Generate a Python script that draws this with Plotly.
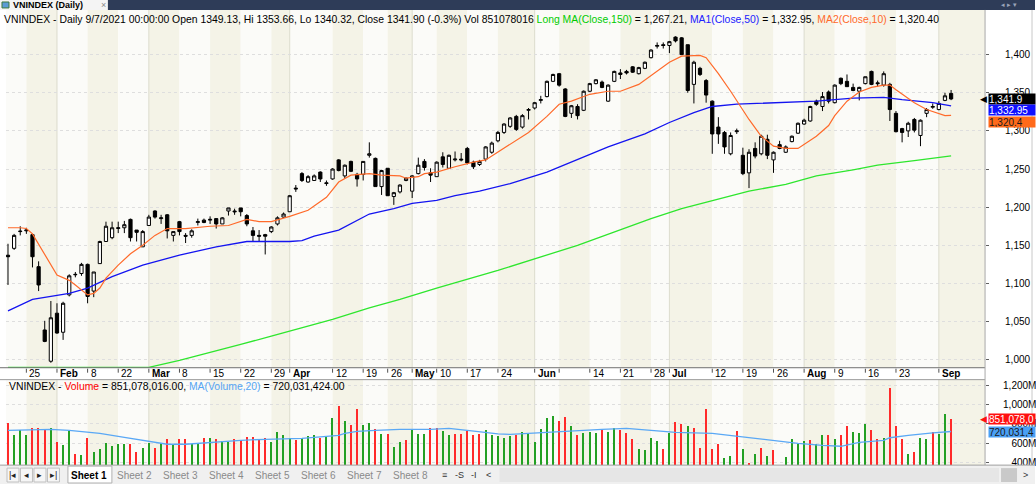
import plotly.graph_objects as go

# ---------------- DATA ----------------
trading_days = {
    1: [20, 21, 22, 25, 26, 27, 28, 29],
    2: [1, 2, 3, 4, 5, 8, 9, 17, 18, 19, 22, 23, 24, 25, 26],
    3: [1, 2, 3, 4, 5, 8, 9, 10, 11, 12, 15, 16, 17, 18, 19, 22, 23, 24, 25, 26, 29, 30, 31],
    4: [1, 2, 5, 6, 7, 8, 9, 12, 13, 14, 15, 16, 19, 20, 22, 23, 26, 27, 28, 29],
    5: [4, 5, 6, 7, 10, 11, 12, 13, 14, 17, 18, 19, 20, 21, 24, 25, 26, 27, 28, 31],
    6: [1, 2, 3, 4, 7, 8, 9, 10, 11, 14, 15, 16, 17, 18, 21, 22, 23, 24, 25, 28, 29, 30],
    7: [1, 2, 5, 6, 7, 8, 9, 12, 13, 14, 15, 16, 19, 20, 21, 22, 23, 26, 27, 28, 29, 30],
    8: [2, 3, 4, 5, 6, 9, 10, 11, 12, 13, 16, 17, 18, 19, 20, 23, 24, 25, 26, 27, 30, 31],
    9: [1, 6, 7],
}
dates = [f"2021-{m:02d}-{d:02d}" for m, ds in trading_days.items() for d in ds]

opens = [1137, 1146, 1168, 1169, 1164, 1122, 1039, 998,
         1061, 1036, 1085, 1112, 1113, 1125, 1090, 1126, 1155, 1160, 1172, 1173, 1184, 1170, 1148,
         1176, 1195, 1185, 1190, 1163, 1181, 1163, 1163, 1180, 1183, 1183, 1185, 1178, 1195, 1195, 1199, 1189, 1169, 1163, 1164, 1168, 1178, 1187,
         1194, 1225, 1244, 1233, 1235, 1246, 1232, 1237, 1262, 1241, 1260, 1243, 1243, 1268, 1264, 1227, 1251, 1214, 1220, 1235,
         1221, 1244, 1260, 1245, 1240, 1266, 1251, 1262, 1263, 1277, 1259, 1256, 1263, 1272, 1287, 1298, 1306, 1319, 1305, 1327,
         1330, 1340, 1345, 1365, 1375, 1355, 1323, 1332, 1327, 1352, 1362, 1364, 1339, 1365, 1376, 1378, 1384, 1375, 1382, 1396, 1411, 1413,
         1412, 1423, 1422, 1413, 1361, 1382, 1366, 1339, 1305, 1298, 1270, 1299, 1268, 1245, 1277, 1270, 1289, 1262, 1282, 1272, 1286, 1297,
         1309, 1313, 1339, 1332, 1351, 1337, 1369, 1365, 1357, 1352, 1362, 1378, 1363, 1360, 1361, 1323, 1303, 1300, 1315, 1294, 1323, 1331,
         1328, 1340, 1349.13]
highs = [1152, 1165, 1175, 1173, 1165, 1129, 1051, 1077,
         1074, 1076, 1112, 1115, 1127, 1126, 1115, 1156, 1181, 1181, 1181, 1182, 1185, 1170, 1170,
         1190, 1196, 1190, 1191, 1168, 1182, 1166, 1171, 1185, 1185, 1188, 1185, 1187, 1199, 1198, 1199, 1191, 1174, 1170, 1165, 1175, 1188, 1193,
         1216, 1229, 1246, 1242, 1243, 1247, 1235, 1251, 1263, 1256, 1261, 1245, 1260, 1285, 1265, 1249, 1251, 1220, 1230, 1239,
         1242, 1265, 1263, 1251, 1260, 1272, 1269, 1273, 1271, 1279, 1261, 1262, 1280, 1286, 1300, 1310, 1318, 1321, 1322, 1330,
         1338, 1346, 1366, 1375, 1376, 1356, 1334, 1335, 1353, 1363, 1368, 1366, 1361, 1379, 1381, 1380, 1385, 1384, 1391, 1407, 1416, 1416,
         1418, 1424, 1423, 1413, 1392, 1384, 1368, 1340, 1318, 1300, 1298, 1303, 1278, 1276, 1285, 1295, 1295, 1273, 1287, 1281, 1294, 1311,
         1316, 1333, 1341, 1351, 1353, 1361, 1370, 1374, 1362, 1358, 1371, 1379, 1366, 1378, 1363, 1326, 1304, 1312, 1317, 1315, 1330, 1336,
         1339, 1350, 1353.66]
lows = [1098, 1144, 1163, 1165, 1121, 1090, 1023, 996,
        1034, 1026, 1083, 1108, 1110, 1074, 1082, 1126, 1155, 1158, 1166, 1166, 1155, 1155, 1148,
        1176, 1185, 1178, 1159, 1155, 1163, 1153, 1160, 1176, 1179, 1178, 1172, 1178, 1189, 1190, 1188, 1175, 1155, 1155, 1138, 1166, 1176, 1186,
        1194, 1220, 1233, 1232, 1235, 1233, 1228, 1236, 1247, 1238, 1246, 1227, 1235, 1265, 1227, 1216, 1215, 1203, 1218, 1234,
        1212, 1243, 1248, 1233, 1240, 1252, 1250, 1260, 1260, 1256, 1250, 1254, 1260, 1270, 1285, 1296, 1304, 1300, 1303, 1315,
        1328, 1336, 1344, 1364, 1358, 1318, 1317, 1315, 1326, 1351, 1361, 1356, 1338, 1364, 1368, 1374, 1376, 1374, 1381, 1395, 1408, 1408,
        1402, 1416, 1400, 1350, 1336, 1372, 1337, 1270, 1283, 1270, 1268, 1296, 1242, 1225, 1264, 1268, 1263, 1245, 1276, 1271, 1285, 1296,
        1308, 1312, 1333, 1326, 1336, 1336, 1360, 1358, 1352, 1340, 1361, 1360, 1358, 1358, 1313, 1298, 1285, 1292, 1298, 1280, 1318, 1329,
        1327, 1339, 1340.32]
closes = [1135, 1163, 1168.5, 1170, 1135, 1098, 1024, 1055,
          1035, 1074, 1110, 1111.5, 1125, 1083, 1115, 1155, 1175, 1173, 1173, 1177, 1160, 1167, 1168,
          1187, 1187, 1186, 1169, 1168, 1168, 1162, 1169, 1181, 1180, 1184, 1178, 1186, 1199, 1194, 1194, 1178, 1163, 1162, 1162, 1174, 1186, 1191,
          1215, 1224, 1235, 1240, 1241, 1237, 1231, 1250, 1248, 1255, 1247, 1237, 1260, 1270, 1227, 1248, 1215, 1219, 1229, 1238,
          1241, 1255, 1252, 1242, 1259, 1256, 1268, 1263, 1262, 1258, 1253, 1260, 1279, 1284, 1298, 1309, 1317, 1302, 1320, 1328,
          1337, 1341, 1365, 1374, 1360, 1319, 1333, 1320, 1352, 1362, 1367, 1357, 1360, 1378, 1374, 1376, 1377, 1383, 1390, 1406, 1412, 1412,
          1417, 1418, 1400, 1353, 1390, 1374, 1347, 1296, 1296, 1279, 1294, 1300, 1244, 1272, 1267, 1293, 1268, 1272, 1277, 1279, 1293, 1310,
          1314, 1332, 1335, 1345, 1339, 1360, 1362, 1358, 1353, 1357, 1371, 1361, 1362, 1375, 1328, 1299, 1298, 1310, 1301, 1314, 1328, 1332,
          1336, 1346, 1341.90]

# volume, millions of shares; 1 = green bar, 0 = red bar
volume_m = [815, 684, 735, 688, 763, 763, 735, 763,
            618, 580, 732, 493, 480, 660, 514, 538, 608, 573, 597, 597, 597, 514, 548,
            608, 548, 608, 649, 590, 649, 642, 590, 608, 660, 660, 649, 625, 618, 642, 632, 667, 667, 632, 653, 618, 722, 688,
            660, 632, 653, 677, 688, 653, 677, 867, 989, 833, 791, 964, 791, 815, 746, 701, 701, 566, 618, 632,
            735, 701, 701, 763, 763, 729, 688, 701, 694, 729, 688, 694, 735, 688, 680, 655, 680, 685, 721, 706,
            614, 752, 862, 890, 838, 873, 784, 685, 706, 721, 713, 749, 721, 756, 742, 706, 650, 544, 529, 660, 624, 546,
            706, 820, 802, 784, 756, 553, 963, 544, 596, 446, 471, 731, 536, 394, 493, 553, 464, 529, 365, 457, 643, 596,
            624, 631, 596, 685, 685, 650, 685, 777, 721, 713, 802, 742, 650, 660, 1175, 784, 650, 493, 507, 660, 650, 721,
            695, 909, 851.078016]
volume_up = [0, 1, 1, 1, 0, 0, 0, 1,
             0, 1, 1, 0, 1, 0, 1, 1, 1, 1, 1, 1, 0, 0, 1,
             1, 0, 1, 0, 1, 0, 0, 1, 1, 0, 1, 0, 1, 1, 0, 0, 0, 0, 0, 0, 1, 1, 1,
             1, 0, 1, 1, 1, 0, 1, 1, 0, 1, 0, 0, 1, 1, 0, 1, 0, 1, 1, 0,
             1, 1, 1, 0, 0, 1, 1, 0, 0, 0, 0, 0, 1, 1, 1, 1, 1, 0, 1, 1,
             1, 1, 1, 1, 0, 0, 1, 0, 1, 1, 1, 0, 1, 1, 0, 0, 0, 1, 1, 1, 1, 0,
             1, 0, 0, 1, 0, 0, 0, 0, 0, 1, 1, 0, 1, 0, 1, 0, 1, 0, 1, 1, 1, 1,
             1, 0, 1, 1, 0, 1, 0, 0, 1, 1, 1, 0, 0, 1, 0, 0, 0, 1, 0, 1, 1, 0,
             1, 1, 0]

ma10_dates = ["2021-01-20", "2021-01-22", "2021-01-25", "2021-01-26", "2021-02-01", "2021-02-03", "2021-02-04",
              "2021-02-08", "2021-02-09", "2021-02-17", "2021-02-18", "2021-02-22", "2021-02-24", "2021-02-26",
              "2021-03-02", "2021-03-04", "2021-03-09", "2021-03-15", "2021-03-18", "2021-03-22", "2021-03-23",
              "2021-03-25", "2021-03-29", "2021-04-01", "2021-04-06", "2021-04-09", "2021-04-13", "2021-04-15",
              "2021-04-20", "2021-04-23", "2021-04-28", "2021-04-29", "2021-05-05", "2021-05-06", "2021-05-10",
              "2021-05-13", "2021-05-18", "2021-05-20", "2021-05-24", "2021-05-31", "2021-06-03", "2021-06-07",
              "2021-06-09", "2021-06-14", "2021-06-17", "2021-06-21", "2021-06-24", "2021-06-29", "2021-07-01",
              "2021-07-05", "2021-07-08", "2021-07-09", "2021-07-13", "2021-07-15", "2021-07-16", "2021-07-20",
              "2021-07-22", "2021-07-26", "2021-07-28", "2021-07-30", "2021-08-04", "2021-08-06", "2021-08-09",
              "2021-08-11", "2021-08-13", "2021-08-17", "2021-08-19", "2021-08-20", "2021-08-23", "2021-08-26",
              "2021-08-30", "2021-09-01", "2021-09-06", "2021-09-07"]
ma10_vals = [1173, 1173, 1172, 1165, 1111, 1104, 1098, 1085, 1087, 1094, 1107, 1124, 1139, 1150,
             1163, 1172, 1172, 1175, 1176, 1182, 1184, 1181, 1181, 1188, 1196, 1213, 1233, 1242,
             1244, 1242, 1241, 1238, 1240, 1244, 1246, 1253, 1259, 1262, 1272, 1298, 1319, 1335,
             1339, 1348, 1352, 1352, 1361, 1378, 1390, 1398, 1399, 1396, 1375, 1352, 1340, 1315,
             1293, 1280, 1277, 1277, 1293, 1307, 1320, 1339, 1351, 1357, 1360, 1360, 1354, 1337,
             1328, 1322, 1320, 1320.40]

ma50_dates = ["2021-01-20", "2021-01-26", "2021-02-03", "2021-02-08", "2021-02-19", "2021-02-26", "2021-03-08",
              "2021-03-16", "2021-03-23", "2021-04-01", "2021-04-05", "2021-04-07", "2021-04-13", "2021-04-16",
              "2021-04-20", "2021-04-27", "2021-05-04", "2021-05-10", "2021-05-13", "2021-05-19", "2021-05-24",
              "2021-05-26", "2021-06-03", "2021-06-10", "2021-06-17", "2021-06-25", "2021-07-01", "2021-07-07",
              "2021-07-12", "2021-07-16", "2021-07-28", "2021-08-04", "2021-08-12", "2021-08-19", "2021-08-24",
              "2021-08-31", "2021-09-07"]
ma50_vals = [1064, 1079, 1087, 1094, 1109, 1124, 1137, 1148, 1155, 1155, 1156, 1162, 1170, 1183,
             1191, 1198, 1205, 1209, 1215, 1221, 1227, 1231, 1246, 1263, 1279, 1296, 1311, 1324,
             1332, 1335, 1337, 1339, 1343, 1344, 1341, 1337, 1332.95]

ma150_dates = ["2021-01-20", "2021-03-01", "2021-03-08", "2021-03-15", "2021-03-22", "2021-03-29", "2021-04-05",
               "2021-04-12", "2021-04-20", "2021-04-28", "2021-05-10", "2021-05-24", "2021-06-10", "2021-06-28",
               "2021-07-05", "2021-07-12", "2021-07-20", "2021-07-28", "2021-08-04", "2021-08-12", "2021-08-18",
               "2021-08-26", "2021-09-07"]
ma150_vals = [990, 990, 999, 1009, 1020, 1031, 1042, 1053, 1068, 1079, 1094, 1117, 1150, 1185,
              1198, 1208, 1221, 1230, 1241, 1249, 1255, 1261, 1267.21]

vma20_dates = ["2021-01-20", "2021-01-29", "2021-02-03", "2021-02-17", "2021-02-23", "2021-02-26", "2021-03-04",
               "2021-03-09", "2021-03-15", "2021-03-22", "2021-03-26", "2021-04-05", "2021-04-09", "2021-04-13",
               "2021-04-14", "2021-04-16", "2021-04-22", "2021-04-28", "2021-05-07", "2021-05-12", "2021-05-17",
               "2021-05-20", "2021-05-24", "2021-05-26", "2021-06-01", "2021-06-08", "2021-06-16", "2021-06-22",
               "2021-06-28", "2021-07-02", "2021-07-12", "2021-07-16", "2021-07-26", "2021-07-30", "2021-08-05",
               "2021-08-10", "2021-08-13", "2021-08-19", "2021-08-20", "2021-08-25", "2021-08-31", "2021-09-07"]
vma20_vals = [732, 742, 732, 701, 660, 628, 587, 587, 608, 628, 639, 649, 670, 680,
              701, 722, 732, 742, 742, 753, 732, 711, 695, 690, 701, 722, 743, 753,
              732, 711, 701, 670, 628, 597, 576, 566, 607, 628, 655, 680, 705, 720.031424]

tick_dates = ["2021-01-25", "2021-02-01", "2021-02-08", "2021-02-22", "2021-03-01", "2021-03-08", "2021-03-15",
              "2021-03-22", "2021-03-29", "2021-04-01", "2021-04-12", "2021-04-19", "2021-04-26", "2021-05-04",
              "2021-05-10", "2021-05-17", "2021-05-24", "2021-06-01", "2021-06-07", "2021-06-14", "2021-06-21",
              "2021-06-28", "2021-07-01", "2021-07-12", "2021-07-19", "2021-07-26", "2021-08-02", "2021-08-09",
              "2021-08-16", "2021-08-23", "2021-09-01"]
tick_labels = ["25", "Feb", "8", "22", "Mar", "8", "15", "22", "29", "Apr", "12", "19", "26", "May",
               "10", "17", "24", "Jun", "", "14", "21", "28", "Jul", "12", "19", "26", "Aug", "9",
               "16", "23", "Sep"]

price_ticks = [1000, 1050, 1100, 1150, 1200, 1250, 1300, 1350, 1400]
volume_ticks = [400, 600, 800, 1000, 1200]

# ---------------- LAYOUT GEOMETRY ----------------
W, H = 1036, 487
def py(p):  # pixel row -> paper y
    return 1 - p / H
def px(p):
    return p / W

X0, X1 = 6, 986
PRICE_TOP, PRICE_BOT = 10, 370
VOL_TOP, VOL_BOT = 382, 468
STEP = 6.13
FIRST = 8
xrange_ = [(X0 - FIRST) / STEP, (X1 - FIRST) / STEP]

FONT = "Liberation Sans, Arial, sans-serif"
BEIGE = "#f4f3e7"
LIGHT = "#fbfbf8"
GREEN_V = "#23a023"
RED_V = "#ff2a2a"

fig = go.Figure()

fig.add_trace(go.Candlestick(
    x=dates, open=opens, high=highs, low=lows, close=closes,
    increasing=dict(line=dict(color="#000000", width=1), fillcolor="#ffffff"),
    decreasing=dict(line=dict(color="#000000", width=1), fillcolor="#000000"),
    whiskerwidth=0, showlegend=False, hoverinfo="skip", xaxis="x", yaxis="y"))

fig.add_trace(go.Scatter(x=ma150_dates, y=ma150_vals, mode="lines",
                         line=dict(color="#2ee62e", width=1.3), xaxis="x", yaxis="y", showlegend=False))
fig.add_trace(go.Scatter(x=ma50_dates, y=ma50_vals, mode="lines",
                         line=dict(color="#1414f0", width=1.3), xaxis="x", yaxis="y", showlegend=False))
fig.add_trace(go.Scatter(x=ma10_dates, y=ma10_vals, mode="lines",
                         line=dict(color="#ff6a2a", width=1.2), xaxis="x", yaxis="y", showlegend=False))

fig.add_trace(go.Bar(x=dates, y=volume_m, width=0.22,
                     marker=dict(color=[GREEN_V if u else RED_V for u in volume_up], line=dict(width=0)),
                     xaxis="x2", yaxis="y2", showlegend=False))
fig.add_trace(go.Scatter(x=vma20_dates, y=vma20_vals, mode="lines",
                         line=dict(color="#5aa8f5", width=1.3), xaxis="x2", yaxis="y2", showlegend=False))

shapes = []
idx_of = {d: i for i, d in enumerate(dates)}
band_edges = [xrange_[0]] + [idx_of[d] for d in tick_dates] + [xrange_[1]]
for k in range(len(band_edges) - 1):
    col = BEIGE if k % 2 == 1 else LIGHT
    for xr, yr in (("x", "y domain"), ("x2", "y2 domain")):
        shapes.append(dict(type="rect", xref=xr, yref=yr, x0=band_edges[k], x1=band_edges[k + 1],
                           y0=0, y1=1, fillcolor=col, line=dict(width=0), layer="below"))
for d, lab in zip(tick_dates, tick_labels):
    if lab.isalpha():
        for xr, yr in (("x", "y domain"), ("x2", "y2 domain")):
            shapes.append(dict(type="line", xref=xr, yref=yr, x0=idx_of[d], x1=idx_of[d], y0=0, y1=1,
                               line=dict(color="#dcdccd", width=1), layer="below"))

shapes += [
    dict(type="rect", xref="paper", yref="paper", x0=0, x1=1, y0=py(10), y1=1,
         fillcolor="#2e3c58", line=dict(width=0)),
    dict(type="rect", xref="paper", yref="paper", x0=0, x1=px(108), y0=py(10), y1=1,
         fillcolor="#f4f4f4", line=dict(width=0)),
    dict(type="rect", xref="paper", yref="paper", x0=px(2), x1=px(9), y0=py(8), y1=py(2),
         fillcolor="#5b9bd5", line=dict(color="#3c7a3c", width=1)),
    dict(type="line", xref="paper", yref="paper", x0=0, x1=px(X1), y0=py(PRICE_BOT), y1=py(PRICE_BOT),
         line=dict(color="#707070", width=1)),
    dict(type="line", xref="paper", yref="paper", x0=0, x1=px(X1), y0=py(VOL_TOP), y1=py(VOL_TOP),
         line=dict(color="#9a9a9a", width=1)),
    dict(type="line", xref="paper", yref="paper", x0=px(X1), x1=px(X1), y0=py(VOL_BOT), y1=py(PRICE_TOP),
         line=dict(color="#a8a8a8", width=1)),
    dict(type="line", xref="paper", yref="paper", x0=px(1033), x1=px(1033), y0=py(VOL_BOT), y1=py(PRICE_TOP),
         line=dict(color="#c8c8c8", width=1)),
    dict(type="rect", xref="paper", yref="paper", x0=0, x1=1, y0=0, y1=py(VOL_BOT),
         fillcolor="#f0f0f0", line=dict(width=0)),
    dict(type="line", xref="paper", yref="paper", x0=0, x1=1, y0=py(VOL_BOT), y1=py(VOL_BOT),
         line=dict(color="#a0a0a0", width=1)),
    dict(type="rect", xref="paper", yref="paper", x0=px(68), x1=px(112), y0=py(486), y1=py(469),
         fillcolor="#ffffff", line=dict(color="#b0b0b0", width=1)),
    dict(type="rect", xref="paper", yref="paper", x0=px(500), x1=px(1000), y0=py(485), y1=py(471),
         fillcolor="#e6e6e6", line=dict(width=0)),
    dict(type="rect", xref="paper", yref="paper", x0=px(1002), x1=px(1018), y0=py(485), y1=py(471),
         fillcolor="#c9c9c9", line=dict(width=0)),
]
for i in range(4):
    shapes.append(dict(type="rect", xref="paper", yref="paper", x0=px(7 + i * 13.5), x1=px(19 + i * 13.5),
                       y0=py(485), y1=py(471), fillcolor="#f6f6f6", line=dict(color="#c0c0c0", width=1)))
for d in tick_dates:
    shapes.append(dict(type="line", xref="x", yref="paper", x0=idx_of[d], x1=idx_of[d],
                       y0=py(PRICE_BOT + 1), y1=py(PRICE_BOT + 5), line=dict(color="#505050", width=1)))

annotations = []
for d, lab in zip(tick_dates, tick_labels):
    if not lab:
        continue
    txt = f"<b>{lab}</b>" if lab.isalpha() else lab
    annotations.append(dict(x=idx_of[d], y=py(376), xref="x", yref="paper", text=txt, showarrow=False,
                            xanchor="left", yanchor="middle", xshift=1,
                            font=dict(family=FONT, size=10, color="#000000")))

o, h, l, c, v = opens[-1], highs[-1], lows[-1], closes[-1], volume_m[-1]
pct = (c - closes[-2]) / closes[-2] * 100
hdr = (f"VNINDEX - Daily 9/7/2021 00:00:00 Open {o:.2f}, Hi {h:.2f}, Lo {l:.2f}, Close {c:.2f} "
       f"({pct:.1f}%) Vol {round(v * 1e6)} "
       f"<span style='color:#00cc00'>Long MA(Close,150)</span> = {ma150_vals[-1]:,.2f}, "
       f"<span style='color:#2020ff'>MA1(Close,50)</span> = {ma50_vals[-1]:,.2f}, "
       f"<span style='color:#ff6a2a'>MA2(Close,10)</span> = {ma10_vals[-1]:,.2f}")
annotations.append(dict(x=px(2), y=py(20), xref="paper", yref="paper", text=hdr, showarrow=False,
                        xanchor="left", yanchor="middle", font=dict(family=FONT, size=10.4, color="#000000")))
vhdr = (f"VNINDEX - <span style='color:#ff0000'>Volume</span> = {v * 1e6:,.2f}, "
        f"<span style='color:#55a5f5'>MA(Volume,20)</span> = {vma20_vals[-1] * 1e6:,.2f}")
annotations.append(dict(x=px(7), y=py(389), xref="paper", yref="paper", text=vhdr, showarrow=False,
                        xanchor="left", yanchor="middle", font=dict(family=FONT, size=10.4, color="#000000")))

annotations.append(dict(x=px(11), y=py(5), xref="paper", yref="paper", text="<b>VNINDEX (Daily)</b>",
                        showarrow=False, xanchor="left", yanchor="middle",
                        font=dict(family=FONT, size=9, color="#000000")))
annotations.append(dict(x=px(99), y=py(5), xref="paper", yref="paper", text="×", showarrow=False,
                        xanchor="left", yanchor="middle", font=dict(family=FONT, size=9, color="#888888")))
annotations.append(dict(x=px(1010), y=py(5), xref="paper", yref="paper", text="◂ ▸ ▾", showarrow=False,
                        xanchor="center", yanchor="middle", font=dict(family=FONT, size=7, color="#9aa4b8")))

def box(y, yref, text, bg, fg, yshift=0):
    return dict(x=px(989), y=y, xref="paper", yref=yref, text=text, showarrow=False,
                xanchor="left", yanchor="middle", bgcolor=bg, width=46, height=10, align="left",
                font=dict(family=FONT, size=10, color=fg), borderpad=0, yshift=yshift)

annotations.append(box(closes[-1], "y", f"{closes[-1]:,.1f}", "#000000", "#ffffff"))
annotations.append(box(ma50_vals[-1], "y", f"{ma50_vals[-1]:,.2f}", "#1010ff", "#ffffff", yshift=-4.5))
annotations.append(box(ma10_vals[-1], "y", f"{ma10_vals[-1]:,.1f}", "#ff6a1a", "#1a1a1a", yshift=-7))
annotations.append(box(volume_m[-1], "y2", f"{round(volume_m[-1] * 1e6):,}"[:9], "#ff1010", "#ffffff"))
annotations.append(box(vma20_vals[-1], "y2", f"{round(vma20_vals[-1] * 1e6):,}"[:9], "#4aa0f5", "#1a1a1a"))
for yv, yref in ((closes[-1], "y"), (volume_m[-1], "y2")):
    annotations.append(dict(x=px(990), y=yv, xref="paper", yref=yref, text="◀", showarrow=False,
                            xanchor="right", yanchor="middle",
                            font=dict(family=FONT, size=9, color="#000000" if yref == "y" else "#ff1010")))

for i, t in enumerate(["|◂", "◂", "▸", "▸|"]):
    annotations.append(dict(x=px(13 + i * 13.5), y=py(478), xref="paper", yref="paper", text=t,
                            showarrow=False, xanchor="center", yanchor="middle",
                            font=dict(family=FONT, size=9, color="#222222")))
for i in range(8):
    t = f"Sheet {i + 1}"
    annotations.append(dict(x=px(89 + i * 46), y=py(478), xref="paper", yref="paper",
                            text=f"<b>{t}</b>" if i == 0 else t, showarrow=False,
                            xanchor="center", yanchor="middle",
                            font=dict(family=FONT, size=10, color="#000000" if i == 0 else "#8a8a8a")))
for xx, t in ((445, "≡"), (460, "-S"), (474, "-I"), (489, "<"), (1026, ">")):
    annotations.append(dict(x=px(xx), y=py(478), xref="paper", yref="paper", text=t, showarrow=False,
                            xanchor="center", yanchor="middle", font=dict(family=FONT, size=9, color="#333333")))

vol_ticktext = ["\u2007\u2008400M", "\u2007\u2008600M", "\u2007\u2008800M", "1,000M", "1,200M"]

fig.update_layout(
    width=W, height=H, margin=dict(l=0, r=0, t=0, b=0),
    paper_bgcolor="#ffffff", plot_bgcolor="rgba(0,0,0,0)",
    showlegend=False, boxgap=0.25, bargap=0,
    shapes=shapes, annotations=annotations,
    xaxis=dict(domain=[px(X0), px(X1)], type="category", range=xrange_, showticklabels=False,
               showgrid=False, zeroline=False, rangeslider=dict(visible=False), anchor="y", fixedrange=True),
    yaxis=dict(domain=[py(PRICE_BOT), py(PRICE_TOP)], range=[989.5, 1458.6], side="right",
               tickvals=price_ticks, tickformat=",d", ticks="outside", ticklen=3, tickcolor="#606060",
               showgrid=True, gridcolor="#dedede", griddash="dot", gridwidth=1, zeroline=False,
               tickfont=dict(family=FONT, size=10, color="#000000"), anchor="x", ticklabelstandoff=14),
    xaxis2=dict(domain=[px(X0), px(X1)], type="category", range=xrange_, showticklabels=False,
                showgrid=False, zeroline=False, anchor="y2", matches="x"),
    yaxis2=dict(domain=[py(VOL_BOT), py(VOL_TOP)], range=[369, 1262], side="right",
                tickvals=volume_ticks, ticktext=vol_ticktext, ticks="outside", ticklen=3, tickcolor="#606060",
                showgrid=True, gridcolor="#dedede", griddash="dot", gridwidth=1, zeroline=False,
                tickfont=dict(family=FONT, size=10, color="#000000"), anchor="x2", ticklabelstandoff=12),
)

fig.write_html("out.html")
